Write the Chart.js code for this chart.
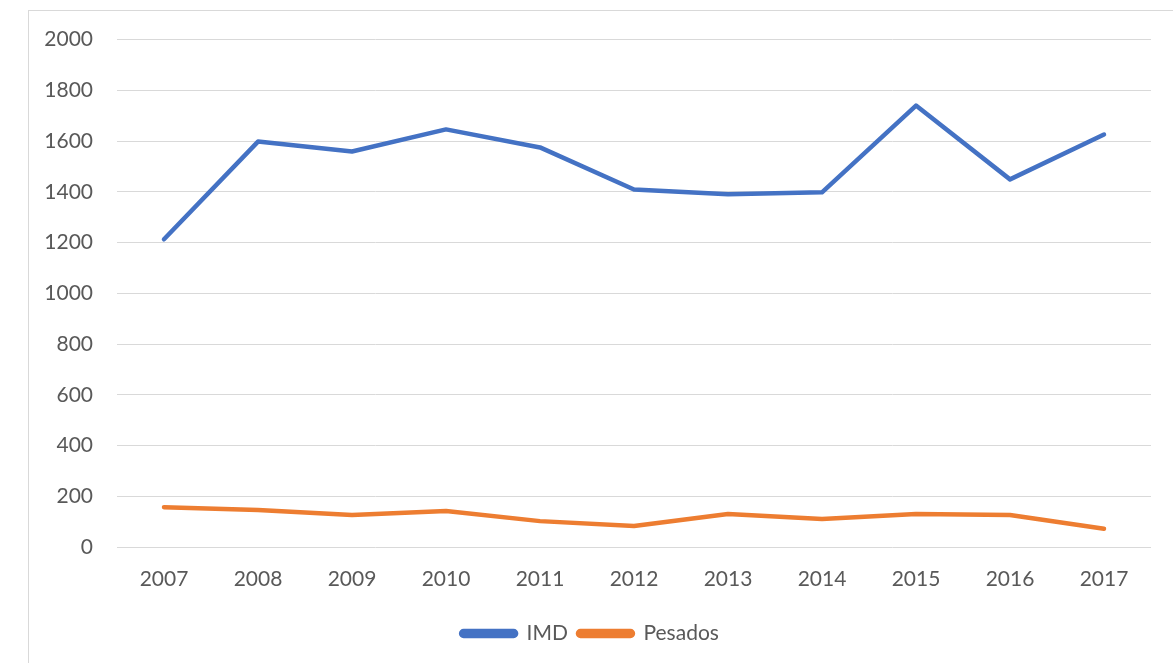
<!DOCTYPE html>
<html>
<head>
<meta charset="utf-8">
<script src="https://cdn.jsdelivr.net/npm/chart.js@4"></script>
<style>
  html, body { margin: 0; padding: 0; background: #fff; overflow: hidden; }
  body { width: 1173px; height: 663px; position: relative; }
  #marco { position: absolute; left: 28px; top: 10px; width: 1200px; height: 700px; border: 1px solid #d9d9d9; }
  #caja { position: absolute; left: 29px; top: 3px; width: 1144px; height: 660px; }
</style>
</head>
<body>
<div id="marco"></div>
<div id="caja"><canvas id="grafico"></canvas></div>
<script>
const anios = ['2007', '2008', '2009', '2010', '2011', '2012', '2013', '2014', '2015', '2016', '2017'];
const imd = [1213, 1598, 1559, 1646, 1575, 1409, 1390, 1398, 1740, 1449, 1626];
const pesados = [157, 146, 126, 142, 102, 83, 130, 110, 130, 126, 72];
const ticksY = [0, 200, 400, 600, 800, 1000, 1200, 1400, 1600, 1800, 2000];

const fuente = { family: 'Lato, "Open Sans", sans-serif', size: 21 };

const ctx = document.getElementById('grafico').getContext('2d');
new Chart(ctx, {
  type: 'line',
  data: {
    labels: anios,
    datasets: [
      { label: 'IMD', data: imd, borderColor: '#4472C4', backgroundColor: '#4472C4' },
      { label: 'Pesados', data: pesados, borderColor: '#ED7D31', backgroundColor: '#ED7D31' }
    ]
  },
  options: {
    responsive: true,
    maintainAspectRatio: false,
    animation: false,
    layout: { padding: { top: 20, right: 22, bottom: 9, left: 0 } },
    elements: {
      line: { borderWidth: 4.5, tension: 0, borderCapStyle: 'round', borderJoinStyle: 'round' },
      point: { radius: 0, hoverRadius: 0 }
    },
    scales: {
      x: {
        offset: true,
        grid: { display: false, drawTicks: false },
        border: { display: false },
        ticks: { color: '#595959', font: fuente, padding: 20 },
        afterFit: s => { s.height = 66; }
      },
      y: {
        min: 0,
        max: 2000,
        afterBuildTicks: s => { s.ticks = ticksY.map(v => ({ value: v })); },
        grid: { color: '#d9d9d9', lineWidth: 1, drawTicks: false },
        border: { display: false },
        ticks: { color: '#595959', font: fuente, padding: 24, callback: v => String(v) },
        afterFit: s => { s.width = 88; }
      }
    },
    plugins: {
      legend: {
        position: 'bottom',
        labels: {
          color: '#595959',
          font: fuente,
          boxWidth: 55,
          boxHeight: 5,
          padding: 10,
          useBorderRadius: true,
          borderRadius: 2.5
        }
      },
      tooltip: { enabled: false }
    }
  }
});
</script>
</body>
</html>
